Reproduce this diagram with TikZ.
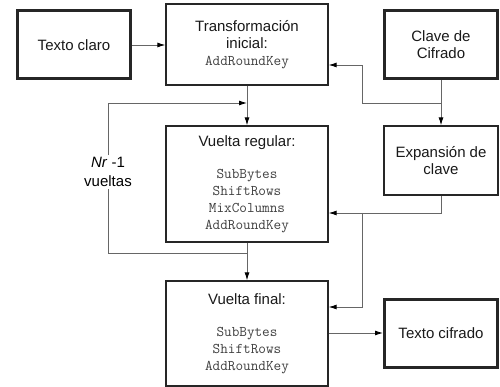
\documentclass[tikz,border=0pt]{standalone}
\usepackage{fontspec}
\setmainfont{Liberation Sans}
\usetikzlibrary{arrows.meta}

\newcommand{\codef}{\fontsize{14.8}{16.7}\selectfont\ttfamily\color{black!75}}

\tikzset{
  block/.style={draw=black!85, line width=1.3pt, inner sep=0pt, align=center,
    minimum width=162pt, font=\fontsize{15}{17}\selectfont, text=black!90},
  ioblock/.style={block, line width=3pt, minimum width=113pt, minimum height=68pt},
  link/.style={draw=black!60, line width=0.9pt, -{Latex[length=8pt,width=5pt,color=black]}},
  wire/.style={draw=black!60, line width=0.9pt}
}

\begin{document}
\begin{tikzpicture}[x=1pt, y=-1pt]
  \useasboundingbox (0,0) rectangle (500,387);
  % input / output blocks
  \node[ioblock] (plain) at (74,45) {Texto claro};
  \node[ioblock] (cipherkey) at (441,45) {Clave de\\Cifrado};
  \node[ioblock] (ciphertext) at (441,333) {Texto cifrado};
  % round blocks
  \node[block, minimum height=81pt] (initial) at (247,44.5)
    {Transformación\\inicial:\\\codef AddRoundKey};
  \node[block, minimum height=116pt] (regular) at (247,184)
    {Vuelta regular:\\[15pt]\codef SubBytes\\\codef ShiftRows\\\codef MixColumns\\\codef AddRoundKey};
  \node[block, minimum height=105pt] (final) at (247,333.5)
    {Vuelta final:\\[15pt]\codef SubBytes\\\codef ShiftRows\\\codef AddRoundKey};
  \node[block, minimum width=114pt, minimum height=69pt] (expansion) at (441,160.5)
    {Expansión de\\clave};
  % loop label
  \node[fill=white, inner sep=2pt, align=center, font=\fontsize{15}{19}\selectfont]
    (rounds) at (108,172) {\textit{Nr} -1\\vueltas};
  % junction points
  \coordinate (loopin) at (247,103);
  \coordinate (loopout) at (247,253);
  \coordinate (keysplit) at (441,103);
  \coordinate (expsplit) at (362,213);
  % data path
  \draw[link] (plain) -- (initial.west |- plain);
  \draw[link] (initial) -- (regular);
  \draw[link] (regular) -- (final);
  \draw[link] (final.east |- 0,333) -- (ciphertext.west |- 0,333);
  \draw[wire] (loopout) -- (108,253) -- (rounds);
  \draw[link] (rounds) -- (108,103) -- (loopin);
  % key path
  \draw[link] (cipherkey) -- (expansion);
  \draw[link] (keysplit) -- (362,103) -- (362,65) -- (initial.east |- 0,65);
  \draw[link] (expansion.south) -- (441,213) -- (regular.east |- expsplit);
  \draw[link] (expsplit) -- (362,307) -- (final.east |- 0,307);
\end{tikzpicture}
\end{document}
